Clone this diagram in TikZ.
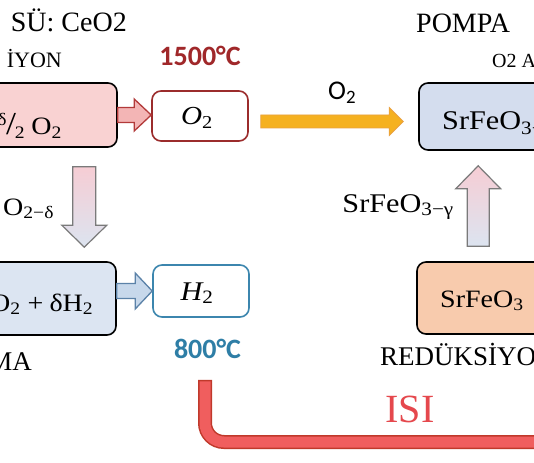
\documentclass[tikz,border=0pt]{standalone}
\usepackage{fontspec}
\setmainfont{Liberation Serif}
\newfontfamily\calib{Carlito}
\newfontfamily\camb[FakeStretch=1.12]{Liberation Serif}
\usetikzlibrary{calc}
\definecolor{pinkbox}{HTML}{F9D2D2}
\definecolor{otwored}{HTML}{9B2C2C}
\definecolor{pinkarrow}{HTML}{F3B5B5}
\definecolor{pinkarrowd}{HTML}{B23A3A}
\definecolor{orangearrow}{HTML}{F5B120}
\definecolor{orangearrowd}{HTML}{E9A040}
\definecolor{bluebox}{HTML}{D4DDEE}
\definecolor{blueboxb}{HTML}{DCE5F2}
\definecolor{bluearrow}{HTML}{C7D8EB}
\definecolor{bluearrowd}{HTML}{5B82A8}
\definecolor{htwoblue}{HTML}{3C86AE}
\definecolor{teighthundred}{HTML}{2E7EA6}
\definecolor{tfifteen}{HTML}{A0282A}
\definecolor{peach}{HTML}{F8CBAD}
\definecolor{pipefill}{HTML}{F05E5E}
\definecolor{pipedark}{HTML}{C0392B}
\definecolor{isired}{HTML}{E5484D}
\definecolor{gradtop}{HTML}{F6CDD4}
\definecolor{gradbot}{HTML}{DCE4F0}
\definecolor{gradline}{HTML}{7A7A7A}
% horizontal block arrow: style, start, end, shaft half, head half, head length
\newcommand\blockH[6]{\path[#1] let \p1=(#2), \p2=(#3), \n1={sign(\x2-\x1)} in
 (\x1,\y1+#4) -- (\x2-\n1*#6,\y1+#4) -- (\x2-\n1*#6,\y1+#5) -- (\x2,\y1)
 -- (\x2-\n1*#6,\y1-#5) -- (\x2-\n1*#6,\y1-#4) -- (\x1,\y1-#4) -- cycle;}
% vertical block arrow
\newcommand\blockV[6]{\path[#1] let \p1=(#2), \p2=(#3), \n1={sign(\y2-\y1)} in
 (\x1+#4,\y1) -- (\x1+#4,\y2-\n1*#6) -- (\x1+#5,\y2-\n1*#6) -- (\x1,\y2)
 -- (\x1-#5,\y2-\n1*#6) -- (\x1-#4,\y2-\n1*#6) -- (\x1-#4,\y1) -- cycle;}
\begin{document}
\begin{tikzpicture}[x=1pt,y=-1pt,
  box/.style={draw, rounded corners=9pt, line width=1.6pt, inner sep=0pt},
  heading/.style={font=\fontsize{27}{30}\selectfont},
  chem/.style={font=\camb\fontsize{27}{30}\selectfont, inner sep=0pt},
  temp/.style={font=\calib\bfseries\fontsize{28}{30}\selectfont, inner sep=0pt}]
\useasboundingbox (0,0) rectangle (534,462);
\clip (0,0) rectangle (534,462);
\fill[white] (0,0) rectangle (534,462);

% boxes
\node[box, fill=pinkbox, minimum width=147pt, minimum height=64pt] (tl) at (43.5,115) {};
\node[box, draw=otwored, fill=white, minimum width=96pt, minimum height=50pt] (o2) at (200,116) {};
\node[box, fill=bluebox, minimum width=161pt, minimum height=67pt] (tr) at (499.5,116.5) {};
\node[box, fill=blueboxb, minimum width=146pt, minimum height=73pt] (bl) at (43,298.5) {};
\node[box, draw=htwoblue, fill=white, minimum width=96pt, minimum height=52pt] (h2) at (201,291) {};
\node[box, fill=peach, minimum width=163pt, minimum height=72pt] (sr) at (498.5,298) {};

% box texts
\node[chem, anchor=base east, font=\camb\fontsize{25}{28}\selectfont] (tlt) at (62,135)
  {\textsuperscript{δ}\kern-1pt{\fontsize{32}{34}\selectfont/}\kern-1pt\textsubscript{2}\hspace{6pt}O\textsubscript{2}};
\node[chem, anchor=base, font=\camb\fontsize{26}{28}\selectfont] (o2t) at ($(o2.center)+(-3,9)$)
  {\itshape O\textsubscript{\upshape 2}};
\node[chem, anchor=base west, font=\camb\fontsize{27}{30}\selectfont] (trt) at (442,130)
  {SrFeO\textsubscript{3−δ}};
\node[chem, anchor=base west, font=\camb\fontsize{25}{28}\selectfont] (blt) at (-10,311)
  {\llap{Ce}O\textsubscript{2}\hspace{7pt}+\hspace{6pt}δH\textsubscript{2}};
\node[chem, anchor=base, font=\camb\fontsize{27}{30}\selectfont] (h2t) at ($(h2.center)+(-4,9)$)
  {\itshape H\textsubscript{\upshape 2}};
\node[chem, anchor=base west, font=\camb\fontsize{25}{28}\selectfont] (srt) at (440,307) {SrFeO\textsubscript{3}};

% block arrows
\coordinate (pa1) at (tl.east);
\coordinate (pa2) at (o2.west);
\blockH{fill=pinkarrow, draw=pinkarrowd, line width=1.3pt}{pa1}{pa2}{7.5pt}{16pt}{17pt}
\coordinate (ba1) at (bl.east |- h2.west);
\coordinate (ba2) at (h2.west);
\blockH{fill=bluearrow, draw=bluearrowd, line width=1.3pt}{ba1}{ba2}{7.5pt}{18pt}{17pt}
\coordinate (oa1) at ($(o2.east)+(12,5.5)$);
\coordinate (oa2) at ($(tr.west)+(-15,5)$);
\blockH{fill=orangearrow, draw=orangearrowd, line width=0.8pt}{oa1}{oa2}{6.5pt}{14pt}{14pt}
\coordinate (da1) at ($(tl.south east)+(-33.5,19)$);
\coordinate (da2) at ($(bl.north east)+(-33.5,-14)$);
\blockV{top color=gradtop, bottom color=gradbot, draw=gradline, line width=1.2pt}{da1}{da2}{11.5pt}{22.5pt}{22pt}
\coordinate (ua1) at ($(sr.north west)+(62,-15)$);
\coordinate (ua2) at ($(tr.south west)+(60,15)$);
\blockV{top color=gradtop, bottom color=gradbot, draw=gradline, line width=1.2pt}{ua1}{ua2}{11pt}{22.5pt}{23pt}

% arrow labels
\node[font=\calib\fontsize{27}{29}\selectfont, anchor=base west, inner sep=0pt] (o2lab) at (328,100) {O\textsubscript{2}};
\node[chem, anchor=base west, font=\camb\fontsize{25}{28}\selectfont] (celab) at (3,215) {\llap{Ce\hspace{5pt}}O\textsubscript{2−δ}};
\node[chem, anchor=base east, font=\camb\fontsize{27}{30}\selectfont] (srlab) at (454,212) {SrFeO\textsubscript{3−γ}};

% temperatures
\node[temp, text=tfifteen, anchor=base] (t1500) at (200,66) {1500°C};
\node[temp, text=teighthundred, anchor=base] (t800) at (207.5,358) {800°C};

% headings
\node[heading, anchor=base east, font=\fontsize{28}{30}\selectfont, inner sep=0pt] (title) at (127,32) {SÜ: CeO2};
\node[anchor=base east, font=\fontsize{22}{24}\selectfont, inner sep=0pt] (lefttop) at (62,68) {İYON};
\node[heading, anchor=base west, font=\fontsize{28}{30}\selectfont, inner sep=0pt] (pompa) at (416,33) {POMPA};
\node[anchor=base west, font=\fontsize{20}{22}\selectfont, inner sep=0pt] (otwoa) at (492,68) {O2 A};
\node[heading, anchor=base east, inner sep=0pt] (ma) at (32,370) {MA};
\node[heading, anchor=base west, inner sep=0pt] (red) at (380,365) {REDÜKSİYON};

% heat pipe
\coordinate (pipeA) at ($(h2.south)+(4,62)$);
\coordinate (pipeB) at (560,442);
\draw[draw=pipedark, line width=14pt, rounded corners=19pt] (pipeA) -- (pipeA |- pipeB) -- (pipeB);
\draw[draw=pipefill, line width=11pt, rounded corners=19pt] ($(pipeA)+(0,1.5)$) -- (pipeA |- pipeB) -- (pipeB);
\node[anchor=base, font=\fontsize{40}{42}\selectfont, text=isired, inner sep=0pt] (isi) at (410,422) {ISI};
\end{tikzpicture}
\end{document}
